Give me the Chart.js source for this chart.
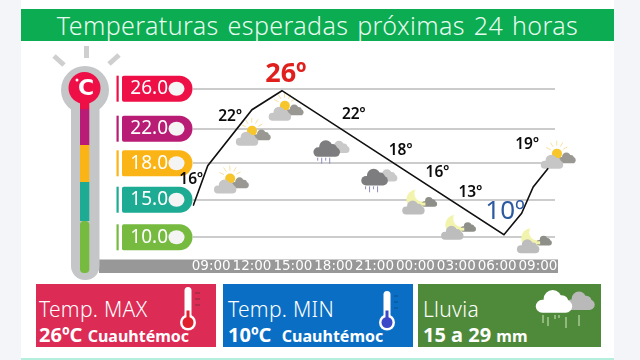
<!DOCTYPE html>
<html>
<head>
<meta charset="utf-8">
<script src="https://cdn.jsdelivr.net/npm/chart.js@4"></script>
<style>
  html, body { margin: 0; padding: 0; background: #f3f5f8; overflow: hidden; }
  #page { position: relative; width: 640px; height: 360px; font-family: "Noto Sans", sans-serif; color: #fff; }
  #sheet { position: absolute; left: 21px; top: 0; width: 593px; height: 358px; background: #fff; }
  #strip { position: absolute; left: 21px; top: 358px; width: 593px; height: 2px; background: #b4eedd; }
  #title { position: absolute; left: 21px; top: 9px; width: 593px; height: 32px; line-height: 32px; background: #0bac52;
           text-align: center; font-size: 25px; font-weight: 300; letter-spacing: 0.4px; word-spacing: 2px; color: #e8fbef; }
  .panel { position: absolute; top: 284px; height: 63px; }
  .panel .name { position: absolute; left: 3px; top: 10px; font-size: 21px; font-weight: 300; line-height: 30px; letter-spacing: 0.3px; white-space: nowrap; }
  .panel .info { position: absolute; left: 3px; top: 37px; font-size: 20px; font-weight: 700; line-height: 28px; white-space: nowrap; }
  .panel .info small { font-size: 16px; font-weight: 700; }
  canvas { position: absolute; left: 0; top: 0; }
</style>
</head>
<body>
<div id="page">
  <div id="sheet"></div>
  <div id="strip"></div>
  <div id="title">Temperaturas esperadas próximas 24 horas</div>
  <div class="panel" style="left:36px;width:180px;background:#dc2b55">
    <div class="name">Temp. MAX</div><div class="info">26ºC <small>Cuauhtémoc</small></div>
  </div>
  <div class="panel" style="left:223px;width:190px;background:#0a6fc4">
    <div class="name" style="left:5px">Temp. MIN</div><div class="info" style="left:5px">10ºC&nbsp; <small>Cuauhtémoc</small></div>
  </div>
  <div class="panel" style="left:418px;width:183px;background:#4f8a3a">
    <div class="name" style="left:5px">Lluvia</div><div class="info" style="left:5px">15 a 29 <small>mm</small></div>
  </div>
  <canvas id="myChart" width="640" height="360"></canvas>
</div>
<script>
// 값 배열
const tickHours = [0, 3, 6, 9, 12, 15, 18, 21, 24];
const tickLabels = ['09:00', '12:00', '15:00', '18:00', '21:00', '00:00', '03:00', '06:00', '09:00'];
const levelValues = [10, 15, 18, 22, 26];
const levelLabels = ['10.0', '15.0', '18.0', '22.0', '26.0'];
const levelColors = ['#76bb3f', '#1dab93', '#fbb415', '#b81c74', '#ee0f47'];
// 화면에 그려진 선의 꼭짓점 (시간, 온도)
const lineHours = [-1.32, -0.25, 3.0, 5.2, 21.5, 22.8, 23.65, 24.75];
const lineTemps = [14.2, 17.8, 23.9, 25.8, 10.35, 13.2, 16.05, 17.6];
// 시간별 예상 온도
const readingTemps = [16, 22, 26, 22, 18, 16, 13, 10, 19];
const readingIcons = ['sun', 'sun', 'sun', 'rain', 'rain', 'moon', 'moon', 'moon', 'sun'];

// 스타일 / 오프셋
const levelGaps = [37.6, 36.4, 34.6, 40];
const labelOffsets = [[-20, -8], [-22, -12], [-7, -14], [20, -14], [26, -13], [22, -15], [14, -22], [8, -26], [-11, -10]];
const iconOffsets = [[19, -5], [0, 6], [-8, 21], [-3, 21], [4, 15], [3, 14], [1, 12], [36, 3], [19, 3]];

// 눈금 간격이 일정하지 않아서 구간별 선형 스케일을 만듦
class LevelScale extends Chart.LinearScale
{
    fractions()
    {
        const total = levelGaps.reduce((a, b) => a + b, 0);
        let sum = 0;
        return [0].concat(levelGaps.map(g => (sum += g) / total));
    }
    getPixelForValue(value)
    {
        const f = this.fractions();
        let i = 0;
        while (i < levelValues.length - 2 && value > levelValues[i + 1]) i++;
        const t = (value - levelValues[i]) / (levelValues[i + 1] - levelValues[i]);
        const frac = f[i] + t * (f[i + 1] - f[i]);
        return this.bottom - frac * (this.bottom - this.top);
    }
    getValueForPixel(pixel)
    {
        const f = this.fractions();
        const frac = (this.bottom - pixel) / (this.bottom - this.top);
        let i = 0;
        while (i < levelValues.length - 2 && frac > f[i + 1]) i++;
        return levelValues[i] + (frac - f[i]) / (f[i + 1] - f[i]) * (levelValues[i + 1] - levelValues[i]);
    }
}
LevelScale.id = 'level';
LevelScale.defaults = Chart.LinearScale.defaults;
Chart.register(LevelScale);

function roundBar(ctx, x, y, w, h, r, color)
{
    ctx.fillStyle = color;
    ctx.beginPath();
    ctx.roundRect(x, y, w, h, r);
    ctx.fill();
}

// 바닥이 평평한 구름
function cloud(ctx, x, y, s, color)
{
    ctx.fillStyle = color;
    ctx.beginPath();
    ctx.arc(x - 1 * s, y - 3 * s, 7 * s, 0, Math.PI * 2);
    ctx.arc(x + 6 * s, y - 1 * s, 5 * s, 0, Math.PI * 2);
    ctx.fill();
    ctx.beginPath();
    ctx.roundRect(x - 14 * s, y - 2.5 * s, 28 * s, 10 * s, 5 * s);
    ctx.fill();
}

function drawIcon(ctx, kind, x, y)
{
    if (kind === 'sun')
    {
        cloud(ctx, x + 10, y + 1, 0.62, '#9a9893');
        ctx.strokeStyle = '#f6e2a0';
        ctx.lineWidth = 1;
        for (let a = -2.7; a <= -0.4; a += 0.55)
        {
            ctx.beginPath();
            ctx.moveTo(x + Math.cos(a) * 7, y - 5 + Math.sin(a) * 7);
            ctx.lineTo(x + Math.cos(a) * 12, y - 5 + Math.sin(a) * 12);
            ctx.stroke();
        }
        ctx.fillStyle = '#f7c52c';
        ctx.beginPath();
        ctx.arc(x, y - 4, 5, 0, Math.PI * 2);
        ctx.fill();
        cloud(ctx, x - 5, y + 5, 0.8, '#c6c6c6');
    }
    else if (kind === 'moon')
    {
        ctx.fillStyle = '#f2f4ae';
        ctx.beginPath();
        ctx.arc(x - 2, y - 2, 10, 0, Math.PI * 2);
        ctx.fill();
        ctx.fillStyle = '#ffffff';
        ctx.beginPath();
        ctx.arc(x + 4, y - 8, 8, 0, Math.PI * 2);
        ctx.fill();
        cloud(ctx, x + 11, y + 1, 0.55, '#8f8f8a');
        ctx.fillStyle = '#f2f4ae';
        ctx.fillRect(x + 1, y + 1, 6, 3);
        cloud(ctx, x - 5, y + 7, 0.8, '#bdbdbd');
    }
    else
    {
        cloud(ctx, x + 9, y - 2, 0.7, '#c9c9c9');
        cloud(ctx, x - 4, y, 0.95, '#7d7d7f');
        ctx.strokeStyle = '#8d8cc4';
        ctx.lineWidth = 1;
        [-13, -9, -5, -1].forEach((dx, i) => {
            ctx.beginPath();
            ctx.moveTo(x + dx, y + 8);
            ctx.lineTo(x + dx, y + 11 + (i % 2) * 3);
            ctx.stroke();
        });
    }
}

function drawThermometer(ctx, x, top, bulbY, fill)
{
    roundBar(ctx, x - 3.5, top, 7, bulbY - top, 3.5, '#ffffff');
    ctx.fillStyle = '#ffffff';
    ctx.beginPath();
    ctx.arc(x, bulbY, 8, 0, Math.PI * 2);
    ctx.fill();
    ctx.fillStyle = fill;
    ctx.beginPath();
    ctx.arc(x, bulbY, 5.5, 0, Math.PI * 2);
    ctx.fill();
    ctx.fillRect(x - 1.5, bulbY - 12, 3, 10);
}

// 왼쪽 온도계, 눈금 알약, 아래쪽 회색 띠
const backdropPlugin = {
    id: 'backdrop',
    beforeDraw(chart)
    {
        const ctx = chart.ctx;
        const yScale = chart.scales.y;
        ctx.save();

        // 띠
        ctx.fillStyle = '#989898';
        ctx.fillRect(99, 259.5, 459, 13.5);

        // 빛살
        ctx.strokeStyle = '#cfcfcf';
        ctx.lineWidth = 5;
        [[54, 56, 64, 65], [86.5, 46, 86.5, 58], [119, 55, 109, 64]].forEach(r => {
            ctx.beginPath();
            ctx.moveTo(r[0], r[1]);
            ctx.lineTo(r[2], r[3]);
            ctx.stroke();
        });

        // 온도계 몸체
        ctx.fillStyle = '#c4c6c8';
        ctx.beginPath();
        ctx.arc(85, 90, 24, 0, Math.PI * 2);
        ctx.fill();
        roundBar(ctx, 71, 90, 28.5, 190, 14, '#c4c6c8');

        // 색 구간
        const stops = [273, 221, 182, 145, 109];
        levelColors.forEach((c, i) => {
            const next = i < stops.length - 1 ? stops[i + 1] : 95;
            ctx.fillStyle = c;
            if (i === 0) roundBar(ctx, 80, next, 9.3, stops[i] - next, 4, c);
            else ctx.fillRect(80, next, 9.3, stops[i] - next);
        });
        ctx.fillStyle = levelColors[4];
        ctx.beginPath();
        ctx.arc(84.5, 88, 16, 0, Math.PI * 2);
        ctx.fill();
        ctx.fillStyle = '#ffffff';
        ctx.font = 'bold 22px "DejaVu Sans"';
        ctx.textAlign = 'center';
        ctx.textBaseline = 'middle';
        ctx.fillText('C', 86, 89);
        ctx.beginPath();
        ctx.arc(77, 80, 1.5, 0, Math.PI * 2);
        ctx.fill();

        // 알약
        levelValues.forEach((v, i) => {
            const py = yScale.getPixelForValue(v);
            ctx.fillStyle = levelColors[i];
            ctx.fillRect(116.5, py - 13, 2.2, 26);
            ctx.beginPath();
            ctx.roundRect(122, py - 13, 70.5, 26, [2, 14, 14, 2]);
            ctx.fill();
            ctx.fillStyle = '#f4f4f4';
            ctx.beginPath();
            ctx.ellipse(176.5, py, 8, 7, 0, 0, Math.PI * 2);
            ctx.fill();
        });
        ctx.restore();
    },
    beforeDatasetsDraw(chart)
    {
        const ctx = chart.ctx;
        const points = chart.getDatasetMeta(1).data;
        ctx.save();
        readingIcons.forEach((kind, i) => {
            drawIcon(ctx, kind, points[i].x + iconOffsets[i][0], points[i].y + iconOffsets[i][1]);
        });
        ctx.restore();
    },
    afterDatasetsDraw(chart)
    {
        const ctx = chart.ctx;
        const points = chart.getDatasetMeta(1).data;
        const hi = Math.max(...readingTemps);
        const lo = Math.min(...readingTemps);
        ctx.save();
        ctx.textAlign = 'center';
        ctx.textBaseline = 'middle';
        readingTemps.forEach((t, i) => {
            ctx.fillStyle = t === hi ? '#e0201c' : (t === lo ? '#2c5aa0' : '#0c0c0c');
            ctx.font = t === hi ? 'bold 27px "Noto Sans"' : (t === lo ? '26px "Noto Sans"' : '600 15.5px "Noto Sans"');
            ctx.fillText(t + 'º', points[i].x + labelOffsets[i][0], points[i].y + labelOffsets[i][1]);
        });

        // 아래 패널 아이콘
        drawThermometer(ctx, 188, 287, 322.5, '#e0202c');
        drawThermometer(ctx, 387, 291, 322.5, '#3b48c8');
        ctx.strokeStyle = '#8a2a40';
        ctx.lineWidth = 1;
        [293, 299, 305].forEach(py => {
            ctx.beginPath();
            ctx.moveTo(195, py);
            ctx.lineTo(200, py);
            ctx.stroke();
        });
        ctx.strokeStyle = '#0a4f90';
        [296, 302, 308].forEach(py => {
            ctx.beginPath();
            ctx.moveTo(394, py);
            ctx.lineTo(398, py);
            ctx.stroke();
        });
        cloud(ctx, 580, 302, 1.05, '#b9b9b9');
        cloud(ctx, 554, 303, 1.3, '#ffffff');
        ctx.strokeStyle = '#bcd8a8';
        ctx.lineWidth = 1.2;
        [[543, 315, 323], [548, 317, 326], [555, 315, 319], [559, 315, 318], [566, 317, 328], [579, 315, 326]].forEach(d => {
            ctx.beginPath();
            ctx.moveTo(d[0], d[1]);
            ctx.lineTo(d[0], d[2]);
            ctx.stroke();
        });
        ctx.restore();
    }
};

function initializeChart()
{
    const ctx = document.getElementById('myChart').getContext('2d');
    new Chart(ctx, {
        type: 'line',
        data: {
            datasets: [
                {
                    label: 'Temperatura',
                    data: lineHours.map((h, i) => ({ x: h, y: lineTemps[i] })),
                    borderColor: '#111111',
                    borderWidth: 1.6,
                    pointRadius: 0,
                    tension: 0
                },
                {
                    label: 'Esperada',
                    data: tickHours.map((h, i) => ({ x: h, y: readingTemps[i] })),
                    showLine: false,
                    pointRadius: 0
                }
            ]
        },
        options: {
            responsive: false,
            animation: false,
            layout: { padding: { left: 0, right: 85, top: 88.7, bottom: 82.7 } },
            plugins: { legend: { display: false }, tooltip: { enabled: false } },
            scales: {
                x: {
                    type: 'linear',
                    min: -1.37,
                    max: 25.25,
                    afterFit: scale => { scale.height = 40; },
                    afterBuildTicks: scale => { scale.ticks = tickHours.map(h => ({ value: h })); },
                    grid: { display: false, drawTicks: false },
                    border: { display: false },
                    ticks: {
                        autoSkip: false,
                        maxRotation: 0,
                        padding: 21,
                        color: '#ffffff',
                        font: { family: 'DejaVu Sans', size: 13.5 },
                        callback: value => tickLabels[tickHours.indexOf(value)]
                    }
                },
                y: {
                    type: 'level',
                    min: 10,
                    max: 26,
                    afterFit: scale => { scale.width = 192.5; },
                    afterBuildTicks: scale => { scale.ticks = levelValues.map(v => ({ value: v })); },
                    grid: { color: '#cccccc', lineWidth: 2, drawTicks: false },
                    border: { display: false },
                    ticks: {
                        autoSkip: false,
                        padding: 24.5,
                        color: '#ffffff',
                        font: { family: 'Noto Sans', size: 19 },
                        callback: value => levelLabels[levelValues.indexOf(value)]
                    }
                }
            }
        },
        plugins: [backdropPlugin]
    });
}

initializeChart();
</script>
</body>
</html>
